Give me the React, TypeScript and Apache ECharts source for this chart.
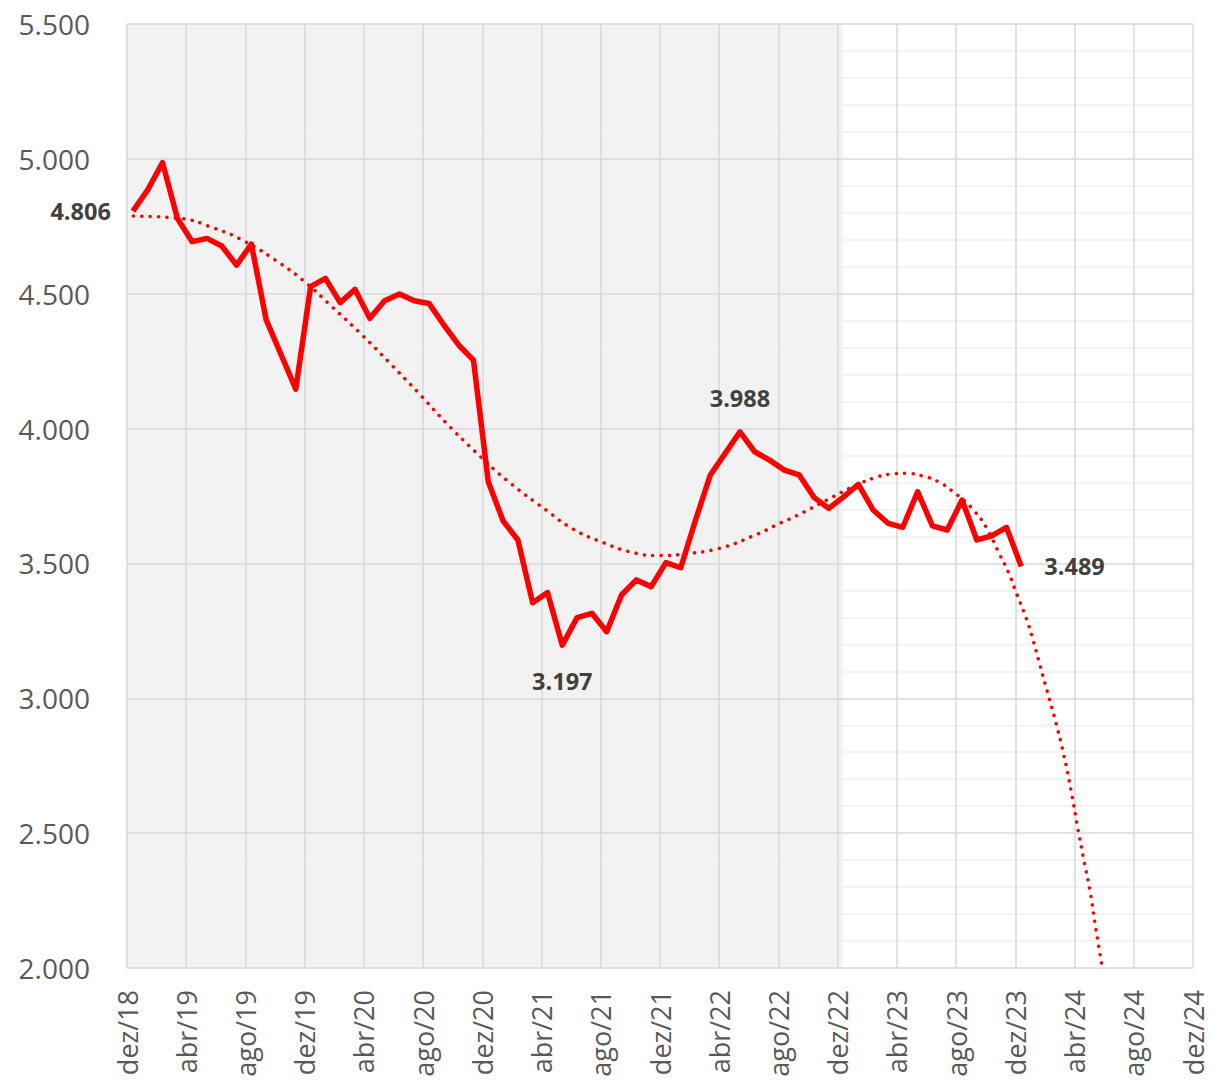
import React, { useEffect, useRef } from "react";
import * as echarts from "echarts";

// Monthly values dez/18 .. dez/23
const priceValues = [
  4806, 4885, 4986, 4780, 4693, 4705, 4677, 4606, 4684, 4403, 4275, 4146,
  4526, 4557, 4467, 4516, 4409, 4474, 4499, 4474, 4464, 4384, 4310, 4254,
  3803, 3658, 3587, 3354, 3392, 3197, 3299, 3315, 3247, 3383, 3439, 3414,
  3503, 3484, 3661, 3828, 3908, 3988, 3914, 3883, 3846, 3828, 3745, 3704,
  3747, 3793, 3698, 3649, 3634, 3766, 3639, 3624, 3735, 3587, 3602, 3634,
  3489,
];
// position of each monthly point within its month (fraction of a month)
const dayOffset = 0.4;

// Polynomial trendline (dotted): [month index, value]
const trendPoints: [number, number][] = [
  [0.43, 4788], [3.44, 4780], [5.94, 4742], [7.97, 4693], [10.33, 4613],
  [12.14, 4538], [13.76, 4456], [15.8, 4351], [17.76, 4242], [19.67, 4133],
  [21.59, 4019], [23.57, 3912], [25.64, 3809], [28.35, 3696], [30.14, 3627],
  [32.17, 3577], [34.2, 3540], [36.0, 3529], [37.57, 3535], [40.0, 3556],
  [42.42, 3605], [43.99, 3646], [45.45, 3683], [47.26, 3735], [49.28, 3791],
  [50.52, 3818], [51.53, 3831], [52.66, 3834], [53.74, 3824], [54.8, 3803],
  [55.7, 3770], [56.48, 3735], [57.27, 3692], [58.07, 3630], [58.96, 3531],
  [59.52, 3469], [60.09, 3387], [60.72, 3299], [61.21, 3213], [61.66, 3123],
  [62.25, 3006], [62.7, 2917], [63.24, 2798], [63.8, 2647], [64.18, 2530],
  [64.59, 2410], [65.04, 2287], [65.38, 2165], [65.83, 2015],
];

const xTickLabels = [
  "dez/18", "abr/19", "ago/19", "dez/19", "abr/20", "ago/20", "dez/20",
  "abr/21", "ago/21", "dez/21", "abr/22", "ago/22", "dez/22", "abr/23",
  "ago/23", "dez/23", "abr/24", "ago/24", "dez/24",
];

// labelled points: index -> position
const labelledPoints: Record<number, string> = { 0: "left", 29: "bottom", 41: "top", 60: "right" };
const labelDistance: Record<string, number> = { left: 22, bottom: 24, top: 22, right: 23 };

const shadedEnd = 48.35; // month index where grey background ends

const fmt = (v: number) => {
  const s = Math.round(v).toString();
  return s.replace(/\B(?=(\d{3})+(?!\d))/g, ".");
};

const FONT = "'Open Sans', 'Noto Sans', sans-serif";

export default function App() {
  const ref = useRef<HTMLDivElement>(null);
  useEffect(() => {
    if (!ref.current) return;
    const chart = echarts.init(ref.current, undefined, { renderer: "svg" });
    const lineData = priceValues.map((v, i) => {
      const pos = labelledPoints[i];
      return {
        value: [i + dayOffset, v],
        label: pos
          ? {
              show: true,
              position: pos,
              distance: labelDistance[pos],
              formatter: (p: any) => fmt(p.value[1]),
              fontFamily: FONT,
              fontWeight: "bold",
              fontSize: 23.5,
              color: "#404040",
            }
          : { show: false },
      };
    });
    chart.setOption({
      animation: false,
      backgroundColor: "#ffffff",
      grid: { left: 127, right: 21, top: 24, bottom: 113, containLabel: false },
      xAxis: {
        type: "value",
        min: 0,
        max: 72,
        interval: 4,
        z: 3,
        axisLine: { show: false },
        axisTick: { show: false },
        splitLine: { show: true, lineStyle: { color: "#d9d9d9", width: 1.5 } },
        axisLabel: {
          rotate: 90,
          margin: 22,
          fontFamily: FONT,
          fontSize: 27,
          color: "#595959",
          formatter: (v: number) => xTickLabels[Math.round(v / 4)] ?? "",
        },
      },
      yAxis: {
        type: "value",
        min: 2000,
        max: 5500,
        interval: 500,
        z: 3,
        axisLine: { show: false },
        axisTick: { show: false },
        minorTick: { show: false, splitNumber: 5 },
        minorSplitLine: { show: true, lineStyle: { color: "#f0f0f0", width: 1.5 } },
        splitLine: { show: true, lineStyle: { color: "#d9d9d9", width: 1.5 } },
        axisLabel: {
          margin: 37,
          fontFamily: FONT,
          fontSize: 28,
          color: "#595959",
          formatter: (v: number) => fmt(v),
        },
      },
      series: [
        {
          type: "line",
          z: 1,
          data: [],
          markArea: {
            silent: true,
            itemStyle: { color: "#f2f2f2" },
            data: [[{ xAxis: 0 }, { xAxis: shadedEnd }]],
          },
        },
        {
          type: "line",
          z: 5,
          data: trendPoints,
          showSymbol: false,
          symbol: "none",
          smooth: true,
          lineStyle: { color: "#ff0000", width: 3.5, type: [0.1, 8.3], cap: "round" },
        },
        {
          type: "line",
          z: 6,
          data: lineData,
          symbol: "circle",
          symbolSize: 0.1,
          showSymbol: true,
          itemStyle: { color: "#ff0000" },
          lineStyle: { color: "#ff0000", width: 5.5, join: "round" },
        },
      ],
    });
    return () => chart.dispose();
  }, []);
  return (
    <div
      ref={ref}
      style={{ position: "fixed", left: 0, top: 0, width: 1214, height: 1081 }}
    />
  );
}
